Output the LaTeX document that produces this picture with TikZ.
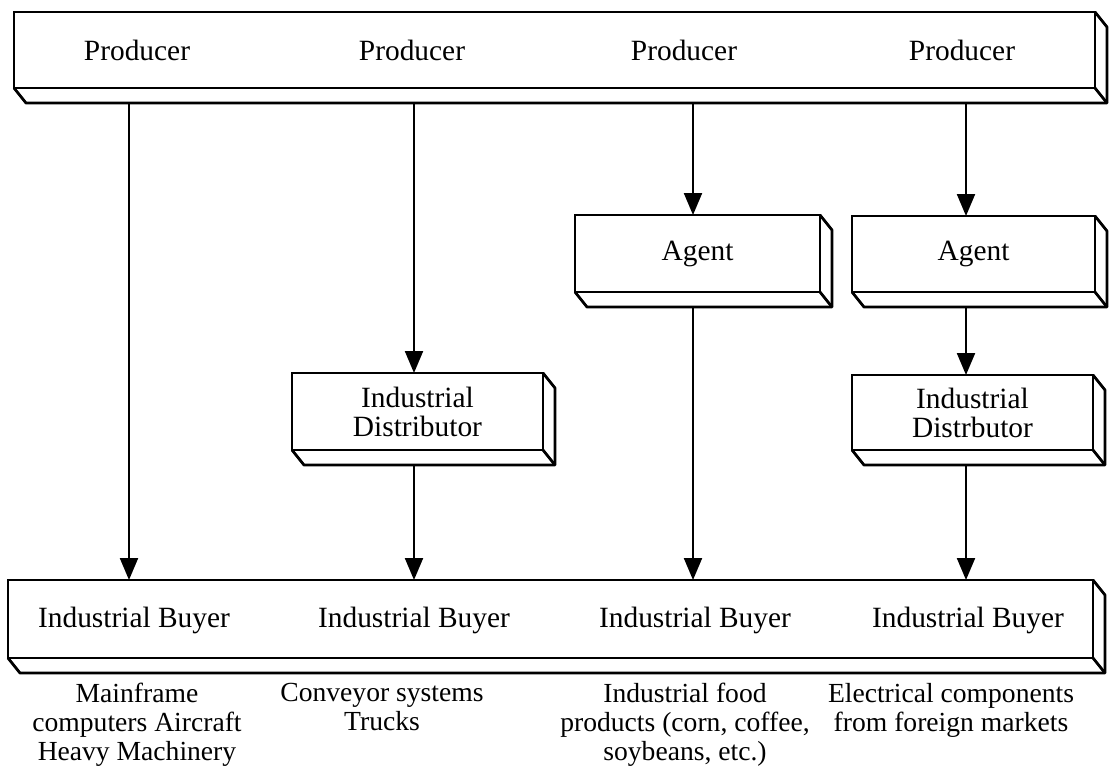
\documentclass[tikz,border=0pt]{standalone}
\usepackage{fontspec}
\setmainfont{Liberation Serif}
\usetikzlibrary{arrows.meta,calc}
\tikzset{
  box/.style={draw, line width=1.4pt, rectangle, outer sep=0pt, inner sep=0pt, align=center, fill=white, font=\fontsize{14.7}{14.5}\selectfont},
  lbl/.style={inner sep=0pt, align=center, font=\fontsize{14.7}{14.5}\selectfont},
  captext/.style={inner sep=0pt, align=center, anchor=north, font=\fontsize{13.8}{14.5}\selectfont},
  arr/.style={line width=1.1pt, -{Triangle[length=11pt,width=9pt]}},
  ext/.style={line width=1.4pt, line join=round},
}
\newcommand{\extrude}[1]{%
  \draw[ext] (#1.south west) -- ++(12,15) -- ($(#1.south east)+(12,15)$) -- ($(#1.north east)+(12,15)$) -- (#1.north east);
  \draw[ext] (#1.south east) -- ++(12,15);
}
\begin{document}
\begin{tikzpicture}[x=0.5pt,y=-0.5pt]
\useasboundingbox (0,0) rectangle (1110,778);
% boxes
\node[box, minimum width=540.5pt, minimum height=38pt] (top) at (554.5,50) {};
\node[box, minimum width=122.5pt, minimum height=38.5pt] (ag1) at (697.5,253.5) {Agent};
\node[box, minimum width=121.5pt, minimum height=38pt] (ag2) at (973.5,254) {Agent};
\node[box, minimum width=125.5pt, minimum height=38.5pt] (d1) at (417.5,411.5) {Industrial\\Distributor};
\node[box, minimum width=120.5pt, minimum height=37.5pt] (d2) at (972.5,412.5) {Industrial\\Distrbutor};
\node[box, minimum width=542.5pt, minimum height=39pt] (bot) at (550.5,619) {};
\extrude{top}
\extrude{ag1}
\extrude{ag2}
\extrude{d1}
\extrude{d2}
\extrude{bot}
% labels in top box
\node[lbl] (p1) at (137,50) {Producer};
\node[lbl] (p2) at (412,50) {Producer};
\node[lbl] (p3) at (684,50) {Producer};
\node[lbl] (p4) at (962,50) {Producer};
% labels in bottom box
\node[lbl] (b1) at (134,620) {Industrial Buyer};
\node[lbl] (b2) at (414,620) {Industrial Buyer};
\node[lbl] (b3) at (695,620) {Industrial Buyer};
\node[lbl] (b4) at (968,620) {Industrial Buyer};
% captions
\node[captext] (c1) at (137,683) {Mainframe\\computers Aircraft\\Heavy Machinery};
\node[captext] (c2) at (382,683) {Conveyor systems\\Trucks};
\node[captext] (c3) at (685,683) {Industrial food\\products (corn, coffee,\\soybeans, etc.)};
\node[captext] (c4) at (951,683) {Electrical components\\from foreign markets};
% arrow start points on the top box's lower face
\coordinate (s1) at (129,103);
\coordinate (s2) at (414,103);
\coordinate (s3) at (693,103);
\coordinate (s4) at (966,103);
% connectors
\draw[arr] (s1) -- (s1 |- bot.north);
\draw[arr] (s2) -- (s2 |- d1.north);
\draw[arr] ($(s2 |- d1.south)+(0,15)$) -- (s2 |- bot.north);
\draw[arr] (s3) -- (s3 |- ag1.north);
\draw[arr] ($(s3 |- ag1.south)+(0,15)$) -- (s3 |- bot.north);
\draw[arr] (s4) -- (s4 |- ag2.north);
\draw[arr] ($(s4 |- ag2.south)+(0,15)$) -- (s4 |- d2.north);
\draw[arr] ($(s4 |- d2.south)+(0,15)$) -- (s4 |- bot.north);
\end{tikzpicture}
\end{document}
